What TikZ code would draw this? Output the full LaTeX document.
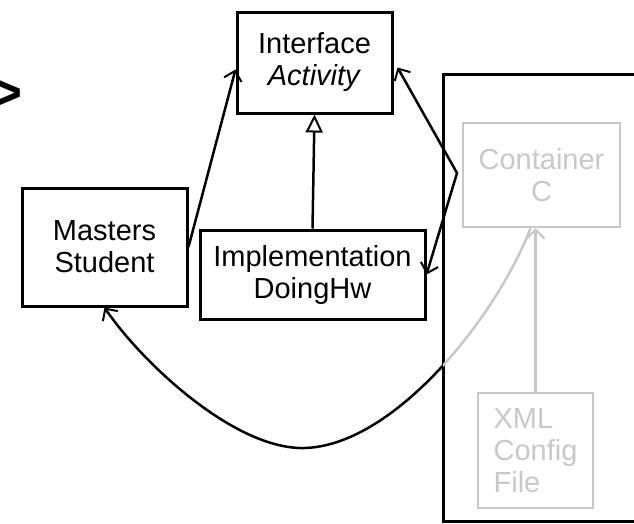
\documentclass[tikz,border=0pt]{standalone}
\usepackage{fontspec}
\setmainfont{Liberation Sans}
\usetikzlibrary{arrows.meta}
\definecolor{faded}{RGB}{200,200,200}

\begin{document}
\begin{tikzpicture}[x=1pt, y=-1pt,
    box/.style={draw, line width=3pt, rectangle, inner sep=0pt, align=center,
      font=\fontsize{29}{32}\selectfont},
    fadedbox/.style={box, draw=faded, text=faded, line width=2.5pt},
    link/.style={line width=2.5pt},
    opentip/.style={-{Straight Barb[length=9pt,width=18pt,line width=2pt]}}]
  \useasboundingbox (0,0) rectangle (634,523);

  % Cut-off stereotype bracket
  \node[anchor=east, inner sep=0pt, font=\fontsize{80}{84}\selectfont] (gt) at (24,96) {>};

  % Outer container frame
  \draw[line width=3pt] (660,74) -| (443,521) -- (660,521);

  % Classes
  \node[box, minimum width=155pt, minimum height=101pt] (iface) at (314.5,62.5) {Interface\\\textit{Activity}};
  \node[box, minimum width=165pt, minimum height=118pt] (ms) at (104.5,247) {Masters\\Student};
  \node[box, minimum width=225pt, minimum height=89pt] (impl) at (312.5,274.5) {Implementation\\DoingHw};
  \node[fadedbox, minimum width=157pt, minimum height=104pt] (cont) at (541.5,175) {Container\\C};
  \node[fadedbox, minimum width=115pt, minimum height=115pt, align=left] (xml) at (535.5,450.5) {XML\\Config\\File};

  % Uses and realises
  \draw[link, opentip] (ms.east) -- ([yshift=-7pt]iface.west);
  \draw[link, -{Triangle[open,length=18pt,width=17pt,line width=2pt]}] (impl.north) -- (iface.south);
  \coordinate (bend) at (457,173);
  \draw[link, {Straight Barb[length=9pt,width=18pt,line width=2pt]}-{Straight Barb[length=9pt,width=18pt,line width=2pt]}]
    (impl.east) -- (bend) -- ([xshift=4pt,yshift=-5pt]iface.east);

  % Configuration
  \draw[link, draw=faded, opentip] (xml.north) -- (xml.north |- cont.south);

  % Injection curve, faded inside the frame
  \begin{scope}
    \clip (0,0) rectangle (443,523);
    \draw[link, opentip] ([xshift=-11pt]cont.south) .. controls (495,320) and (390,450) .. (300,448)
      .. controls (230,446) and (140,360) .. (ms.south);
  \end{scope}
  \begin{scope}
    \clip (443,0) rectangle (634,523);
    \draw[link, draw=faded] ([xshift=-11pt]cont.south) .. controls (495,320) and (390,450) .. (300,448)
      .. controls (230,446) and (140,360) .. (ms.south);
  \end{scope}
\end{tikzpicture}
\end{document}
